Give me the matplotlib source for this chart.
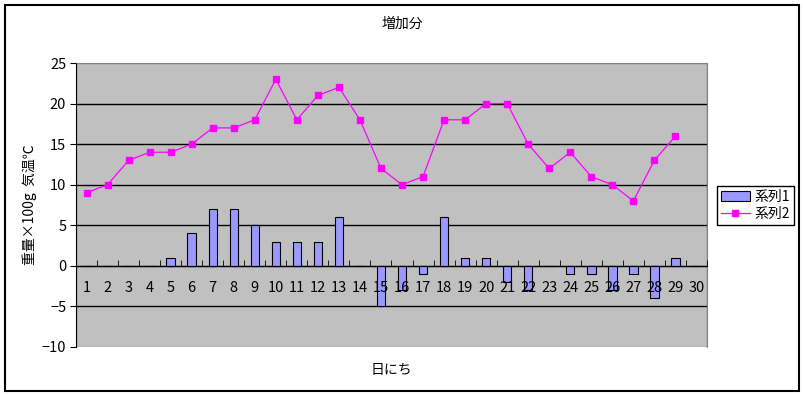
import numpy as np
import matplotlib
matplotlib.use('Agg')
import matplotlib.pyplot as plt
from matplotlib.patches import Rectangle

plt.rcParams['font.family'] = ['Noto Sans CJK JP', 'DejaVu Sans']

days = list(range(1, 31))
series1 = [0, 0, 0, 0, 1, 4, 7, 7, 5, 3, 3, 3, 6, 0, -5,
           -3, -1, 6, 1, 1, -2, -3, 0, -1, -1, -3, -1, -4, 1, 0]
series2 = [9, 10, 13, 14, 14, 15, 17, 17, 18, 23, 18, 21, 22, 18, 12,
           10, 11, 18, 18, 20, 20, 15, 12, 14, 11, 10, 8, 13, 16, np.nan]
yticks = [-10, -5, 0, 5, 10, 15, 20, 25]

fig = plt.figure(figsize=(8.04, 3.96), dpi=100)
W, H = 804, 396

# outer frame
fig.patches.append(Rectangle((5 / W, 1 - 391 / H), 794 / W, 386 / H, transform=fig.transFigure,
                             fill=False, edgecolor='black', linewidth=1.5))

ax = fig.add_axes([76 / W, 1 - 347 / H, 631 / W, 284 / H])
ax.set_facecolor('#C0C0C0')
ax.set_axisbelow(False)

for y in yticks[1:-1]:
    ax.axhline(y, color='black', linewidth=1, zorder=1)

bars = ax.bar(days, series1, width=0.4, color='#9999FF', edgecolor='black', linewidth=0.8,
              zorder=2, label='系列1')
line, = ax.plot(days, series2, color='#FF00FF', linewidth=0.9, marker='s', markersize=4.5,
                zorder=3, label='系列2')

ax.set_xlim(0.5, 30.5)
ax.set_ylim(-10, 25)

for s in ['top', 'right']:
    ax.spines[s].set_color('#808080')
ax.spines['left'].set_color('black')
ax.spines['bottom'].set_position(('data', 0))
ax.spines['bottom'].set_color('black')
ax.add_patch(Rectangle((0, 0), 1, 1, transform=ax.transAxes, fill=False,
                       edgecolor='#808080', linewidth=1, zorder=0.5))

ax.set_yticks(yticks)
ax.set_yticklabels([str(v).replace('-', '\u2212') for v in yticks], fontsize=10.5)
ax.tick_params(axis='y', direction='out', length=4, pad=3)

ax.set_xticks(days)
ax.set_xticklabels([str(d) for d in days], fontsize=10.5)
ax.set_xticks(np.arange(0.5, 31, 1), minor=True)
ax.tick_params(axis='x', which='major', length=0, pad=11)
ax.tick_params(axis='x', which='minor', direction='in', length=4)

fig.text(402 / W, 1 - 24 / H, '増加分', ha='center', va='center', fontsize=10)
fig.text(391 / W, 1 - 370 / H, '日にち', ha='center', va='center', fontsize=10)
fig.text(30 / W, 1 - 205 / H, '重量×100g  気温℃', ha='center', va='center',
         rotation=90, fontsize=10)

leg = fig.legend([bars, line], ['系列1', '系列2'], loc='center',
                 bbox_to_anchor=(755.5 / W, 1 - 205.5 / H), fontsize=10,
                 frameon=True, fancybox=False, edgecolor='black', framealpha=1,
                 handlelength=2.1, borderpad=0.3, labelspacing=0.2, handletextpad=0.35,
                 borderaxespad=0)
leg.get_frame().set_linewidth(1)

fig.savefig('out.png', dpi=100)
